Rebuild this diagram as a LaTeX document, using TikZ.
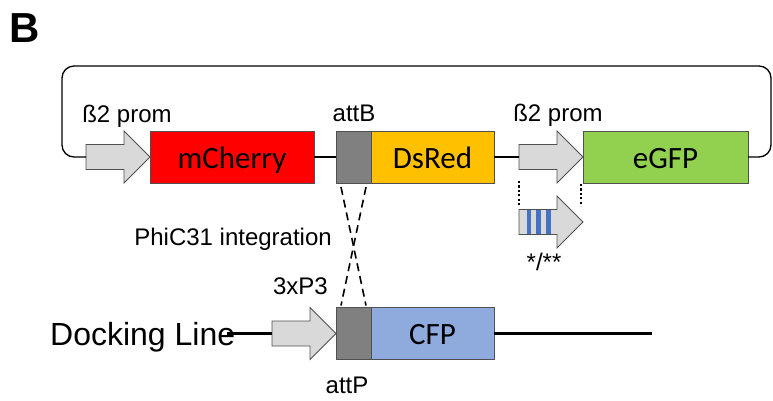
\documentclass[tikz,border=0pt]{standalone}
\usepackage{fontspec}
\setmainfont{Liberation Sans}
\newfontfamily\calibri{Carlito}
\usetikzlibrary{positioning}
\definecolor{cherryred}{RGB}{255,0,0}
\definecolor{dsorange}{RGB}{255,192,0}
\definecolor{gfpgreen}{RGB}{146,208,80}
\definecolor{attgray}{RGB}{128,128,128}
\definecolor{promgray}{RGB}{217,217,217}
\definecolor{cfpblue}{RGB}{143,170,220}
\definecolor{stripeblue}{RGB}{68,114,196}
\definecolor{edgegray}{RGB}{80,80,80}
% promoter arrow drawn inside a named box (tail = west, tip = east)
\newcommand{\promarrow}[1]{%
  \draw[promline] ([yshift=12.5pt]#1.west) -- ([xshift=-26pt,yshift=12.5pt]#1.east)
    -- ([xshift=-26pt]#1.north east) -- (#1.east) -- ([xshift=-26pt]#1.south east)
    -- ([xshift=-26pt,yshift=-12.5pt]#1.east) -- ([yshift=-12.5pt]#1.west) -- cycle;}

\begin{document}
\begin{tikzpicture}[x=1pt, y=-1pt,
  gene/.style={draw=edgegray, line width=0.8pt, minimum height=52pt, inner sep=0pt, outer sep=0pt,
    font=\calibri\fontsize{31}{31}\selectfont, text height=22pt, text depth=0pt},
  prom/.style={minimum width=64pt, minimum height=52pt, inner sep=0pt, outer sep=0pt, anchor=east},
  promline/.style={draw=edgegray, fill=promgray, line width=0.8pt, line join=miter},
  lbl/.style={font=\fontsize{24}{24}\selectfont, inner sep=0pt},
  backbone/.style={line width=1.3pt},
  dockline/.style={line width=3pt},
  cross/.style={line width=1.6pt, dash pattern=on 8pt off 5pt},
  dotline/.style={line width=2.2pt, dash pattern=on 2.2pt off 2.2pt}]
  \useasboundingbox (0,0) rectangle (773,400);
  \node[font=\bfseries\fontsize{42}{42}\selectfont, inner sep=0pt] (panel) at (24.5,28) {B};

  % Construct
  \node[gene, fill=cherryred, minimum width=164pt] (mcherry) at (232,157) {mCherry};
  \node[prom] (p1) at (mcherry.west) {};
  \promarrow{p1}
  \node[gene, fill=attgray, minimum width=35pt] (attb) at (353.5,157) {};
  \node[gene, fill=dsorange, minimum width=123pt, right=0pt of attb] (dsred) {DsRed};
  \node[gene, fill=gfpgreen, minimum width=165pt] (egfp) at (665.5,157) {eGFP};
  \node[prom] (p2) at (egfp.west) {};
  \promarrow{p2}
  \draw[backbone] (mcherry) -- (attb);
  \draw[backbone] (dsred) -- (p2);
  \draw[backbone, rounded corners=12pt] (egfp.east) -| (771,66) -| ([xshift=-24pt]p1.west) -- (p1.west);
  \node[lbl, anchor=base] (prom1lbl) at (127,122) {ß2 prom};
  \node[lbl, anchor=base] (attblbl) at (354,121) {attB};
  \node[lbl, anchor=base] (prom2lbl) at (558,121) {ß2 prom};

  % Mutated promoter
  \node[prom] (mut) at (583,222) {};
  \promarrow{mut}
  \foreach \sx in {529,538.5,548.5}
    \fill[stripeblue] (\sx-2.25,210) rectangle (\sx+2.25,234);
  \draw[dotline] ([yshift=-24pt]p2.west) -- ([yshift=17pt]mut.west);
  \draw[dotline] ([xshift=-2pt,yshift=-1pt]egfp.south west) -- ([xshift=-2pt,yshift=16pt]mut.east);
  \node[lbl, anchor=base] (mutlbl) at (544,270) {*/**};

  % Docking line
  \node[gene, fill=attgray, minimum width=35pt] (attp) at (353.5,333.5) {};
  \node[gene, fill=cfpblue, minimum width=123pt, right=0pt of attp] (cfp) {CFP};
  \node[prom] (p3) at (attp.west) {};
  \promarrow{p3}
  \node[anchor=base west, inner sep=0pt, font=\fontsize{32}{32}\selectfont] (dock) at (50,345) {Docking Line};
  \coordinate (dockend) at (p3.west -| dock.east);
  \coordinate (dockright) at ([xshift=158pt]cfp.east);
  \draw[dockline] ([xshift=-8pt]dockend) -- (p3.west);
  \draw[dockline] (cfp) -- (dockright);
  \node[lbl, anchor=base east] (p3lbl) at (328,294) {3xP3};
  \node[lbl, anchor=base] (attplbl) at (347,393) {attP};

  % Integration
  \draw[cross] ([xshift=5pt,yshift=-4pt]attb.south west) -- ([xshift=-5pt,yshift=2pt]attp.north east);
  \draw[cross] ([xshift=-5pt,yshift=-4pt]attb.south east) -- ([xshift=5pt,yshift=2pt]attp.north west);
  \node[lbl, anchor=base east] (philbl) at (332,245) {PhiC31 integration};
\end{tikzpicture}
\end{document}
